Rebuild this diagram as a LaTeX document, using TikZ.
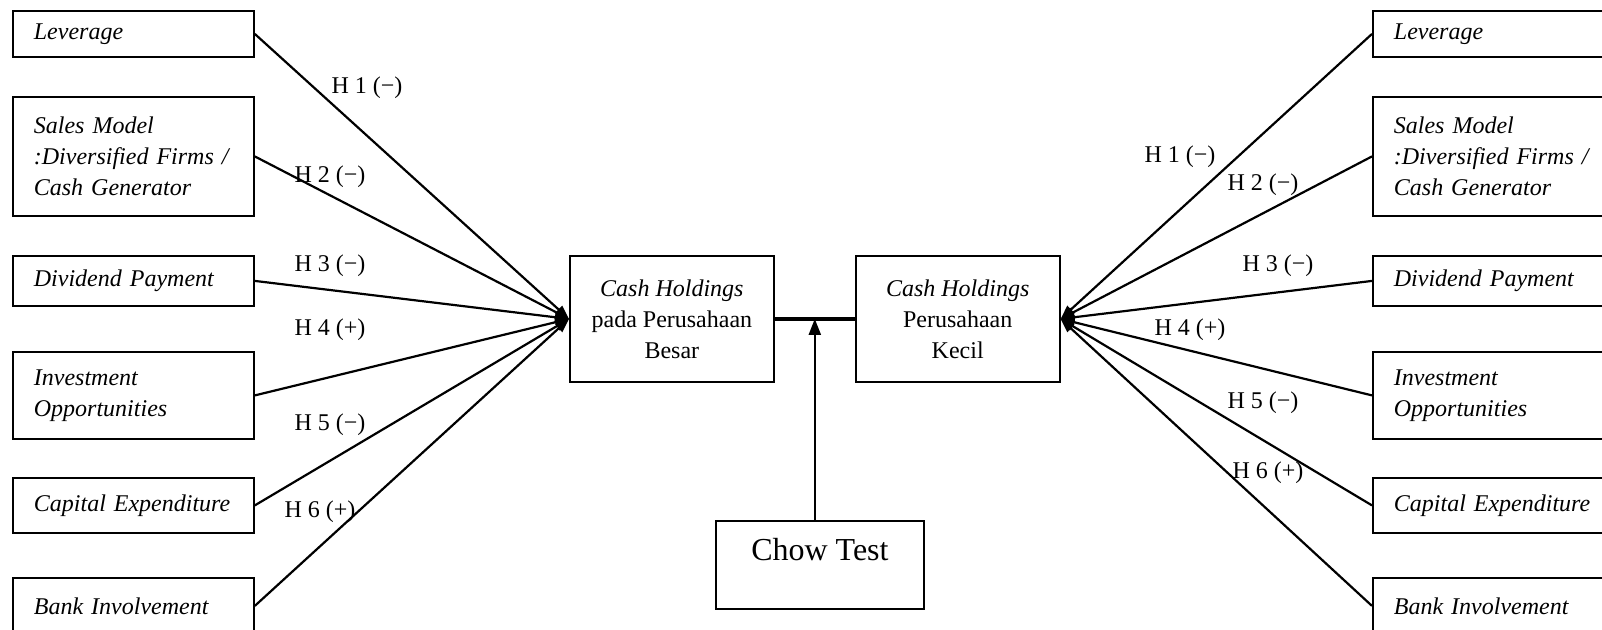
\documentclass[tikz,border=0pt]{standalone}
\usepackage{fontspec}
\setmainfont{Liberation Serif}
\usetikzlibrary{positioning, arrows.meta, calc}

\begin{document}
\begin{tikzpicture}[
    x=0.5pt, y=-0.5pt,
    every node/.style={font=\fontsize{12}{15.5}\selectfont},
    varbox/.style={rectangle, draw, line width=0.9pt, text width=99.5pt, inner xsep=10.5pt, inner ysep=0pt, align=left, anchor=north west},
    mainbox/.style={rectangle, draw, line width=0.9pt, minimum width=102pt, minimum height=63pt, align=center, anchor=north west},
    hyp/.style={inner sep=0pt},
    link/.style={line width=1.1pt, -{Triangle[length=7pt, width=5pt]}}
]
    \useasboundingbox (0,0) rectangle (1602,629);

    \node[varbox, minimum height=23pt] (levL) at (12,10) {\textit{Leverage}};
    \node[varbox, minimum height=59.5pt] (salesL) at (12,96) {\textit{Sales Model}\\\textit{:Diversified Firms /}\\\textit{Cash Generator}};
    \node[varbox, minimum height=25pt] (divL) at (12,255) {\textit{Dividend Payment}};
    \node[varbox, minimum height=43.5pt] (invL) at (12,351) {\textit{Investment}\\\textit{Opportunities}};
    \node[varbox, minimum height=27.5pt] (capL) at (12,477) {\textit{Capital Expenditure}};
    \node[varbox, minimum height=28pt] (bankL) at (12,577) {\textit{Bank Involvement}};

    \node[varbox, minimum height=23pt] (levR) at (1372,10) {\textit{Leverage}};
    \node[varbox, minimum height=59.5pt] (salesR) at (1372,96) {\textit{Sales Model}\\\textit{:Diversified Firms /}\\\textit{Cash Generator}};
    \node[varbox, minimum height=25pt] (divR) at (1372,255) {\textit{Dividend Payment}};
    \node[varbox, minimum height=43.5pt] (invR) at (1372,351) {\textit{Investment}\\\textit{Opportunities}};
    \node[varbox, minimum height=27.5pt] (capR) at (1372,477) {\textit{Capital Expenditure}};
    \node[varbox, minimum height=28pt] (bankR) at (1372,577) {\textit{Bank Involvement}};

    \node[mainbox] (bigL) at (569,255) {\textit{Cash Holdings}\\pada Perusahaan\\Besar};
    \node[mainbox, right=40pt of bigL.north east, anchor=north west] (smallR) {\textit{Cash Holdings}\\Perusahaan\\Kecil};
    \node[rectangle, draw, line width=0.9pt, minimum width=104pt, inner ysep=0pt, text height=20pt, text depth=24pt,
        font=\fontsize{16}{19}\selectfont, anchor=north west] (chow) at (715,520) {Chow Test};

    \draw[line width=1.8pt] (bigL) -- (smallR);
    \coordinate (mid) at ($(bigL.east)!0.5!(smallR.west)$);
    \draw[line width=1.1pt, -{Triangle[length=8pt, width=6pt]}] (chow.north -| mid) -- (mid);

    \draw[link] (levL.east) -- (bigL.west);
    \draw[link] (salesL.east) -- (bigL.west);
    \draw[link] (divL.east) -- (bigL.west);
    \draw[link] (invL.east) -- (bigL.west);
    \draw[link] (capL.east) -- (bigL.west);
    \draw[link] (bankL.east) -- (bigL.west);

    \draw[link] (levR.west) -- (smallR.east);
    \draw[link] (salesR.west) -- (smallR.east);
    \draw[link] (divR.west) -- (smallR.east);
    \draw[link] (invR.west) -- (smallR.east);
    \draw[link] (capR.west) -- (smallR.east);
    \draw[link] (bankR.west) -- (smallR.east);

    \node[hyp] (h1L) at (367,88) {H 1 (−)};
    \node[hyp] (h2L) at (330,177) {H 2 (−)};
    \node[hyp] (h3L) at (330,266) {H 3 (−)};
    \node[hyp] (h4L) at (330,330) {H 4 (+)};
    \node[hyp] (h5L) at (330,425) {H 5 (−)};
    \node[hyp] (h6L) at (320,512) {H 6 (+)};

    \node[hyp] (h1R) at (1180,157) {H 1 (−)};
    \node[hyp] (h2R) at (1263,185) {H 2 (−)};
    \node[hyp] (h3R) at (1278,266) {H 3 (−)};
    \node[hyp] (h4R) at (1190,330) {H 4 (+)};
    \node[hyp] (h5R) at (1263,403) {H 5 (−)};
    \node[hyp] (h6R) at (1268,473) {H 6 (+)};
\end{tikzpicture}
\end{document}
